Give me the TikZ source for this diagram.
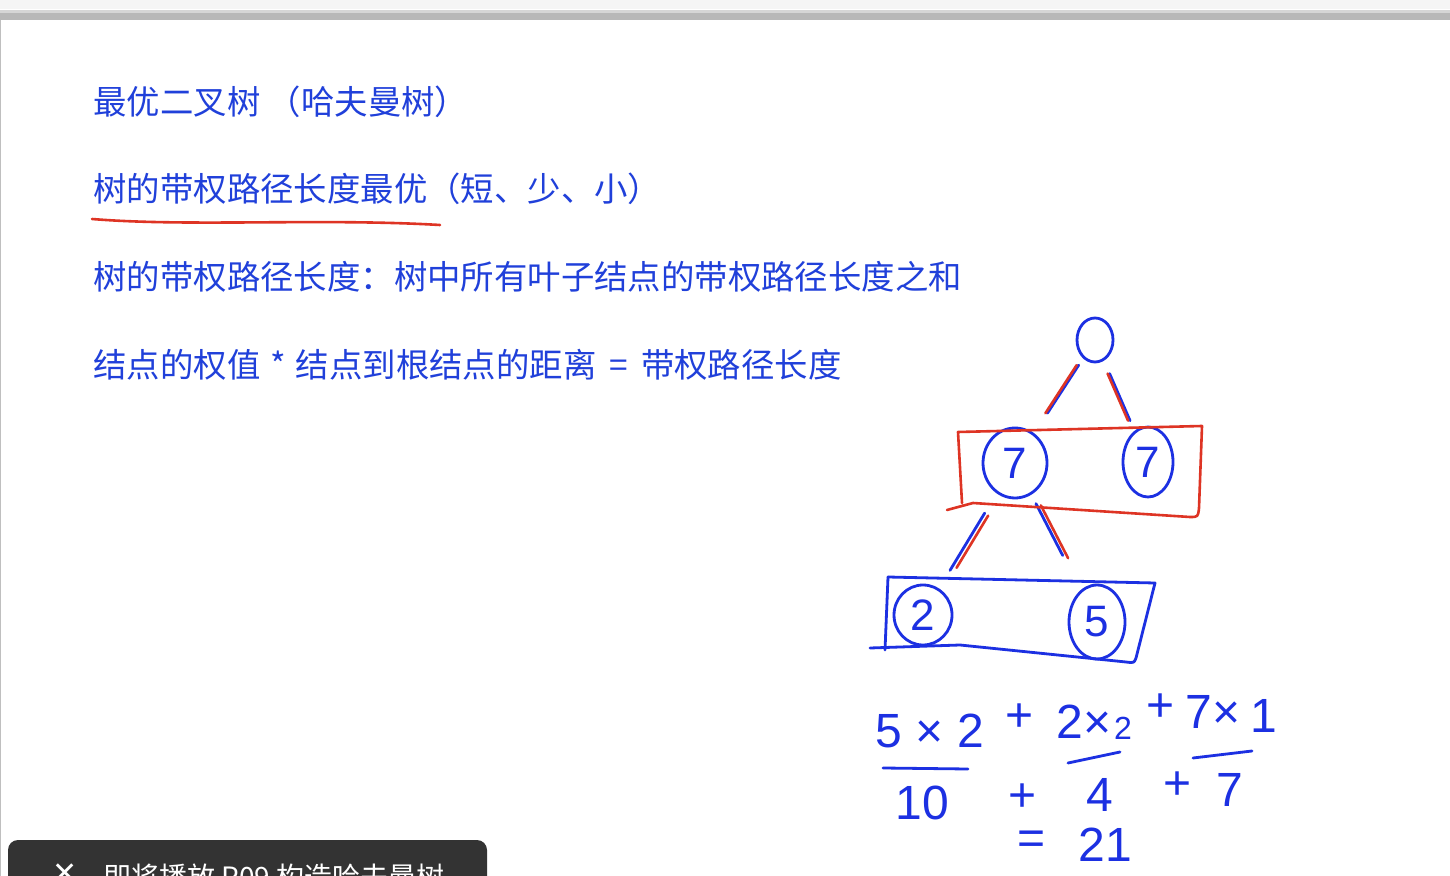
\documentclass[tikz,border=0pt]{standalone}
\usepackage{fontspec}
\setmainfont{Liberation Sans}
\newfontfamily\cjkfont{Noto Sans CJK SC}
\newfontfamily\handfont{Liberation Sans}
\newfontfamily\symbfont{DejaVu Sans}
\usepackage{xcolor}
\usepackage{tikz}
\usetikzlibrary{positioning,shapes.geometric}

\definecolor{slideblue}{RGB}{32,64,218}
\definecolor{inkblue}{RGB}{28,48,226}
\definecolor{inkred}{RGB}{222,52,36}
\definecolor{barlight}{RGB}{214,214,214}
\definecolor{bargray}{RGB}{184,184,184}
\definecolor{toastgray}{RGB}{51,51,51}

\begin{document}
\begin{tikzpicture}[x=0.5pt, y=-0.5pt,
  line/.style={font=\cjkfont\fontsize{16.7}{20}\selectfont, text=slideblue,
    anchor=west, inner sep=0pt},
  ink/.style={draw=inkblue, line width=1.4pt, line cap=round, line join=round},
  redink/.style={draw=inkred, line width=1.3pt, line cap=round, line join=round},
  leaf/.style={ellipse, ink, inner sep=0pt, text=inkblue,
    font=\handfont\fontsize{22}{22}\selectfont},
  hand/.style={text=inkblue, inner sep=0pt,
    font=\handfont\fontsize{24}{24}\selectfont}
]
  \useasboundingbox (0,0) rectangle (1450,876);
  \clip (0,0) rectangle (1450,876);
  \fill[white] (0,0) rectangle (1450,876);

  % window bar
  \fill[black!4] (0,0) rectangle (1450,9);
  \fill[barlight] (0,10) rectangle (1450,13);
  \fill[bargray] (0,13) rectangle (1450,20);
  \draw[black!25] (0.5,20) -- (0.5,876);

  % slide text
  \node[line] (title) at (93,102) {最优二叉树 （哈夫曼树）};
  \node[line] (aim) at (93,189) {树的带权路径长度最优（短、少、小）};
  \node[line] (defn) at (93,277) {树的带权路径长度：树中所有叶子结点的带权路径长度之和};
  \node[line] (rule) at (93,365) {结点的权值\hspace{5pt}*\hspace{5pt}结点到根结点的距离\hspace{6.5pt}=\hspace{6.5pt}带权路径长度};
  \draw[redink] (92,219) .. controls (190,227) and (320,218) .. (440,225);

  % tree
  \node[leaf, minimum width=18pt, minimum height=22pt] (root) at (1095,340) {};
  \node[leaf, minimum width=32pt, minimum height=35pt] (sevenL) at (1015,463) {7};
  \node[leaf, minimum width=25pt, minimum height=35pt] (sevenR) at (1148,462) {7};
  \node[leaf, minimum width=29pt, minimum height=30pt] (two) at (923,615) {2};
  \node[leaf, minimum width=28pt, minimum height=37pt] (five) at (1097,622) {5};

  \draw[ink, shorten <=4pt, shorten >=12pt] (root) -- (sevenL);
  \draw[redink, shorten <=4pt, shorten >=12pt, transform canvas={xshift=-1pt}] (root) -- (sevenL);
  \draw[ink, shorten <=7pt, shorten >=5.5pt] (root) -- (sevenR);
  \draw[redink, shorten <=7pt, shorten >=5.5pt, transform canvas={xshift=-1pt}] (root) -- (sevenR);
  \draw[ink, shorten <=11.5pt, shorten >=10.5pt] (sevenL) -- (two);
  \draw[redink, shorten <=13pt, shorten >=12pt, transform canvas={xshift=2.5pt}] (sevenL) -- (two);
  \draw[ink, shorten <=5pt, shorten >=19.5pt] (sevenL) -- (five);
  \draw[redink, shorten <=6pt, shorten >=18pt, transform canvas={xshift=2pt}] (sevenL) -- (five);

  % groups
  \draw[redink] (947,510) -- (973,503) -- (1190,517) .. controls (1198,517) .. (1199,508)
    -- (1202,426) -- (958,432) -- (962,503);
  \draw[ink] (888,577) -- (1155,583) -- (1136,658) .. controls (1134,663) .. (1126,662)
    -- (960,645) -- (870,648);
  \draw[ink] (888,577) -- (885,650);

  % sum
  \node[hand] (termA) at (930,731) {5 × 2};
  \node[hand] (plusA) at (1020,718) {+};
  \node[hand] (termB) at (1084,722) {2×};
  \node[hand, font=\handfont\fontsize{16}{16}\selectfont, right=1pt of termB, yshift=-3pt] (subB) {2};
  \node[hand] (plusB) at (1160,708) {+};
  \node[hand] (termC) at (1213,712) {7×};
  \node[hand] (termD) at (1264,716) {1};
  \draw[ink] (883,768) -- (968,769);
  \draw[ink] (1068,763) -- (1120,752);
  \draw[ink] (1193,758) -- (1252,751);
  \node[hand] (ten) at (922,803) {10};
  \node[hand] (plusC) at (1023,798) {+};
  \node[hand] (four) at (1100,795) {4};
  \node[hand] (plusD) at (1177,786) {+};
  \node[hand] (seven) at (1230,790) {7};
  \node[hand] (equal) at (1032,843) {=};
  \node[hand] (total) at (1105,845) {21};

  % popup
  \fill[toastgray, rounded corners=5pt] (8,840) rectangle (487,900);
  \node[text=white, inner sep=0pt, font=\symbfont\fontsize{15}{15}\selectfont] (close) at (65,874) {✕};
  \node[text=white, anchor=west, inner sep=0pt, font=\cjkfont\fontsize{14}{16}\selectfont]
    (toast) at (103,877) {即将播放 P09 构造哈夫曼树};
\end{tikzpicture}
\end{document}
